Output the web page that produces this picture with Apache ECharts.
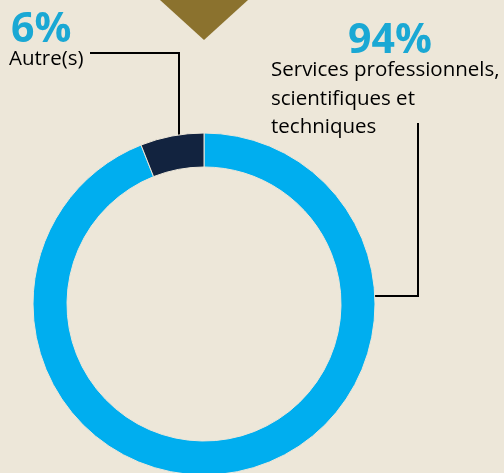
<!DOCTYPE html>
<html><head><meta charset="utf-8">
<script src="https://cdn.jsdelivr.net/npm/echarts@6/dist/echarts.min.js"></script>
<style>html,body{margin:0;padding:0;background:#ede7d9;}#c{width:504px;height:473px;}</style>
</head><body><div id="c"></div>
<script>
const categories = ['Services professionnels, scientifiques et techniques', 'Autre(s)'];
const values = [94, 6];
const percentLabels = ['94%', '6%'];
const labelLines = [['Services professionnels,', 'scientifiques et', 'techniques'], ['Autre(s)']];
const colors = ['#00aeef', '#12233f'];

const chart = echarts.init(document.getElementById('c'), null, {renderer: 'canvas'});
const font = '"Open Sans", sans-serif';
chart.setOption({
  backgroundColor: '#ede7d9',
  animation: false,
  series: [{
    type: 'pie',
    center: [204, 304],
    radius: [137, 171],
    startAngle: 90,
    clockwise: true,
    label: {show: false},
    labelLine: {show: false},
    silent: true,
    itemStyle: {borderColor: '#ede7d9', borderWidth: 1},
    data: categories.map((n, i) => ({name: n, value: values[i], itemStyle: {color: colors[i]}}))
  }],
  graphic: [
    {type: 'polygon', shape: {points: [[160, 0], [248, 0], [204, 40]]}, style: {fill: '#8b722e'}},
    {type: 'text', left: 11, top: 10, style: {text: percentLabels[1], font: 'bold 41px ' + font, fill: '#1aa8d4'}},
    {type: 'text', left: 9, top: 45, style: {text: labelLines[1].join('\n'), font: '20.5px ' + font, fill: '#000', lineHeight: 28}},
    {type: 'polyline', shape: {points: [[90, 53], [179, 53], [179, 143]]}, style: {stroke: '#000', lineWidth: 2, fill: null}},
    {type: 'text', left: 348, top: 21, style: {text: percentLabels[0], font: 'bold 41px ' + font, fill: '#1aa8d4'}},
    {type: 'text', left: 271, top: 56, style: {text: labelLines[0].join('\n'), font: '20.5px ' + font, fill: '#000', lineHeight: 28.5}},
    {type: 'polyline', shape: {points: [[418, 123], [418, 296], [364, 296]]}, style: {stroke: '#000', lineWidth: 2, fill: null}}
  ]
});
</script></body></html>
